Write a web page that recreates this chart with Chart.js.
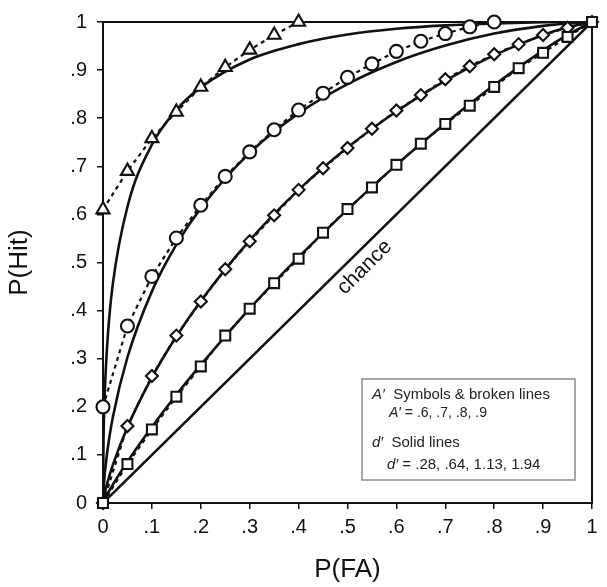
<!DOCTYPE html>
<html>
<head>
<meta charset="utf-8">
<script src="https://cdn.jsdelivr.net/npm/chart.js@4/dist/chart.umd.min.js"></script>
<style>
html, body { margin: 0; padding: 0; background: #fff; }
</style>
</head>
<body>
<canvas id="roc" width="607" height="587"></canvas>
<script>
// false-alarm rates for the symbol series (step .05)
const faSym = [0, .05, .1, .15, .2, .25, .3, .35, .4, .45, .5, .55, .6, .65, .7, .75, .8, .85, .9, .95, 1];
// A' = .6 (squares), .7 (diamonds), .8 (circles), .9 (triangles)
const hitA6 = [0, .081, .153, .221, .284, .348, .404, .457, .508, .562, .611, .656, .703, .747, .788, .826, .865, .904, .936, .969, 1];
const hitA7 = [0, .16, .264, .348, .419, .486, .544, .598, .651, .696, .738, .778, .816, .848, .881, .908, .933, .954, .973, .988, 1];
const hitA8 = [.2, .368, .471, .551, .619, .679, .730, .776, .817, .852, .885, .913, .939, .960, .976, .99, 1];
const hitA9 = [.61, .69, .758, .813, .865, .906, .942, .973, 1];

// false-alarm rates
const faD = [0, .001, .003, .005, .01, .02, .05, .1, .15, .2, .3, .4, .5, .6, .7, .8, .9, .95, 1];
const hitD28 = [0, .0025, .0068, .0108, .0204, .038, .086, .158, .225, .287, .404, .511, .610, .703, .789, .869, .941, .973, 1];
const hitD64 = [0, .0071, .0175, .0264, .0459, .0787, .1575, .261, .346, .420, .546, .651, .739, .814, .878, .931, .973, .989, 1];
const hitD113 = [0, .025, .0528, .074, .116, .178, .303, .440, .537, .613, .728, .810, .871, .917, .951, .976, .992, .997, 1];
const hitD194 = [0, .125, .210, .262, .350, .455, .616, .745, .817, .864, .922, .954, .974, .986, .993, .997, .9994, .9998, 1];

const chance = [0, 1];

const ink = '#111';
const pts = (xs, ys) => ys.map((y, i) => ({ x: xs[i], y: y }));

function solid(ys) {
    return {
        data: pts(faD, ys),
        borderColor: ink,
        borderWidth: 2.6,
        pointRadius: 0,
        cubicInterpolationMode: 'monotone',
        showLine: true,
        order: 3
    };
}

function symbols(ys, style, r, order) {
    return {
        data: pts(faSym, ys),
        borderColor: ink,
        borderWidth: 2.2,
        borderDash: [4, 4],
        pointStyle: style,
        pointRadius: r,
        pointBorderWidth: 2.1,
        pointBackgroundColor: '#fff',
        pointBorderColor: ink,
        showLine: true,
        clip: false,
        order: order
    };
}

const extras = {
    id: 'extras',
    beforeDatasetsDraw(chart) {
        const ctx = chart.ctx;
        const a = chart.chartArea;
        ctx.save();
        ctx.strokeStyle = ink;
        ctx.lineWidth = 2;
        ctx.strokeRect(a.left, a.top, a.right - a.left, a.bottom - a.top);
        ctx.restore();
    },
    afterDraw(chart) {
        const ctx = chart.ctx;
        const a = chart.chartArea;
        const xs = chart.scales.x, ys = chart.scales.y;
        ctx.save();

        // chance label
        ctx.save();
        ctx.translate(xs.getPixelForValue(.535), ys.getPixelForValue(.49));
        ctx.rotate(-Math.PI / 4);
        ctx.fillStyle = ink;
        ctx.font = '21px "Liberation Sans", Arial, sans-serif';
        ctx.textAlign = 'center';
        ctx.textBaseline = 'middle';
        ctx.fillText('chance', 0, 0);
        ctx.restore();

        // legend box
        const bx = a.right - 230, by = a.bottom - 124, bw = 213, bh = 101;
        ctx.strokeStyle = '#8a8a8a';
        ctx.lineWidth = 1.5;
        ctx.strokeRect(bx, by, bw, bh);
        ctx.fillStyle = '#222';
        ctx.textBaseline = 'middle';
        ctx.textAlign = 'left';
        function line(x, y, a1, rest, size) {
            ctx.font = 'italic ' + size + 'px "Liberation Sans", Arial, sans-serif';
            ctx.fillText(a1, x, y);
            const w = ctx.measureText(a1).width;
            ctx.font = size + 'px "Liberation Sans", Arial, sans-serif';
            ctx.fillText(rest, x + w, y);
        }
        line(bx + 10, by + 16, 'A\u2032', '  Symbols & broken lines', 15);
        line(bx + 27, by + 34, 'A\u2032', ' = .6, .7, .8, .9', 14);
        line(bx + 10, by + 64, 'd\u2032', '  Solid lines', 15);
        line(bx + 25, by + 86, 'd\u2032', ' = .28, .64, 1.13, 1.94', 15);
        ctx.restore();
    }
};

const tickText = v => v === 0 ? '0' : v === 1 ? '1' : v.toFixed(1).replace(/^0/, '');
const tickFont = { family: '"Liberation Sans", Arial, sans-serif', size: 20 };

new Chart(document.getElementById('roc'), {
    type: 'scatter',
    data: {
        datasets: [
            { data: pts(chance, chance), borderColor: ink, borderWidth: 2.6, pointRadius: 0, showLine: true, order: 3 },
            solid(hitD28),
            solid(hitD64),
            solid(hitD113),
            solid(hitD194),
            symbols(hitA6, 'rect', 7, 0),
            symbols(hitA7, 'rectRot', 6, 1),
            symbols(hitA8, 'circle', 6.5, 1),
            symbols(hitA9, 'triangle', 7.5, 1)
        ]
    },
    options: {
        responsive: false,
        animation: false,
        layout: { padding: { top: 15, right: 15, left: 0, bottom: 0 } },
        plugins: { legend: { display: false }, tooltip: { enabled: false } },
        scales: {
            x: {
                type: 'linear', min: 0, max: 1,
                afterFit: s => { s.height = 84; },
                ticks: { stepSize: .1, callback: tickText, color: ink, font: tickFont, padding: 6, maxRotation: 0 },
                grid: { drawOnChartArea: false, drawTicks: true, tickLength: 6, color: ink, lineWidth: 1.5 },
                border: { display: true, color: ink, width: 2 },
                title: { display: true, text: 'P(FA)', color: ink, font: { family: '"Liberation Sans", Arial, sans-serif', size: 26 }, padding: { top: 4, bottom: 2 } }
            },
            y: {
                type: 'linear', min: 0, max: 1,
                afterFit: s => { s.width = 103; },
                ticks: { stepSize: .1, callback: tickText, color: ink, font: tickFont, padding: 10 },
                grid: { drawOnChartArea: false, drawTicks: true, tickLength: 6, color: ink, lineWidth: 1.5 },
                border: { display: true, color: ink, width: 2 },
                title: { display: true, text: 'P(Hit)', color: ink, font: { family: '"Liberation Sans", Arial, sans-serif', size: 26 }, padding: { top: 4, bottom: 0 } }
            }
        }
    },
    plugins: [extras]
});
</script>
</body>
</html>
